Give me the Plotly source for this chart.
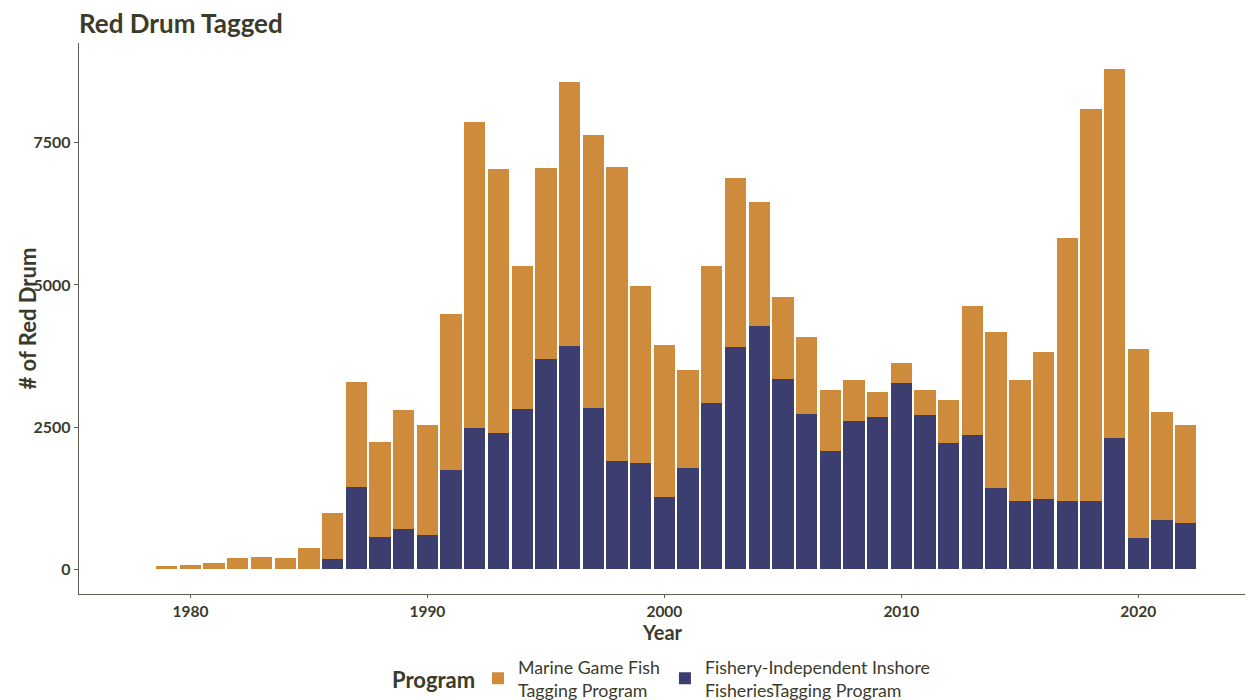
import plotly.graph_objects as go

years = list(range(1979, 2023))

# Fishery-Independent Inshore Fisheries Tagging Program (bottom segment)
fishery_independent = [
    0, 0, 0, 0, 0, 0, 0, 176, 1452, 573,
    703, 598, 1740, 2479, 2396, 2824, 3692, 3926, 2830, 1904,
    1863, 1277, 1786, 2926, 3905, 4283, 3346, 2730, 2085, 2602,
    2683, 3278, 2719, 2224, 2355, 1424, 1206, 1230, 1206, 1206,
    2314, 556, 861, 820,
]

# Total tagged (both programs)
totals = [
    58, 70, 116, 204, 216, 204, 380, 985, 3288, 2238,
    2801, 2543, 4483, 7859, 7038, 5332, 7061, 8573, 7635, 7073,
    4981, 3935, 3504, 5332, 6874, 6452, 4787, 4079, 3158, 3325,
    3112, 3632, 3155, 2968, 4622, 4172, 3328, 3815, 5830, 8098,
    8790, 3868, 2765, 2543,
]

marine_game_fish = [t - f for t, f in zip(totals, fishery_independent)]

x_ticks = [1980, 1990, 2000, 2010, 2020]
y_ticks = [0, 2500, 5000, 7500]

ORANGE = "#CE8B3B"
NAVY = "#3B3E6E"
TEXT = "#3b3b2c"
AXIS = "#5e5e50"
FONT = "Lato"

# figure is placed at (8, 8) in the page by the default body margin
W, H = 1248, 692
ML, MR, MT, MB = 71, 11, 35, 106
PW, PH = W - ML - MR, H - MT - MB


def px_x(x):
    return (x - ML) / PW


def px_y(y):
    return -(y - (H - MB)) / PH


fig = go.Figure()
fig.add_trace(go.Bar(
    x=years, y=fishery_independent,
    name="Fishery-Independent Inshore<br>FisheriesTagging Program",
    marker=dict(color=NAVY, line=dict(width=0)),
))
fig.add_trace(go.Bar(
    x=years, y=marine_game_fish,
    name="Marine Game Fish<br>Tagging Program",
    marker=dict(color=ORANGE, line=dict(width=0)),
))

fig.update_layout(
    width=W, height=H,
    barmode="stack", bargap=0.1,
    plot_bgcolor="white", paper_bgcolor="white",
    margin=dict(l=ML, r=MR, t=MT, b=MB, autoexpand=False),
    font=dict(family=FONT, color=TEXT),
    title=dict(
        text="<b>Red Drum Tagged</b>",
        x=ML / W, xanchor="left",
        y=1 - 16 / H, yanchor="middle",
        font=dict(size=26, family=FONT, color=TEXT),
    ),
    xaxis=dict(
        range=[1975.3, 2024.5],
        tickvals=x_ticks,
        ticktext=[f"<b>{v}</b>" for v in x_ticks],
        tickfont=dict(size=15.5, family=FONT, color=TEXT),
        showgrid=False, zeroline=False, automargin=False,
        showline=True, linecolor=AXIS, linewidth=1.3,
        ticks="outside", ticklen=3, tickcolor=AXIS,
    ),
    yaxis=dict(
        range=[-434, 9253],
        tickvals=y_ticks,
        ticktext=[f"<b>{v}</b>" for v in y_ticks],
        tickfont=dict(size=16, family=FONT, color=TEXT),
        showgrid=False, zeroline=False, automargin=False,
        showline=True, linecolor=AXIS, linewidth=1.3,
        ticks="outside", ticklen=4, tickcolor=AXIS,
    ),
    annotations=[
        dict(
            text="<b>Year</b>", xref="paper", yref="paper",
            x=0.5, y=px_y(624), xanchor="center", yanchor="middle",
            showarrow=False, font=dict(size=20, family=FONT, color=TEXT),
        ),
        dict(
            text="<b># of Red Drum</b>", xref="paper", yref="paper",
            x=px_x(19), y=0.5, xanchor="center", yanchor="middle",
            textangle=-90,
            showarrow=False, font=dict(size=22, family=FONT, color=TEXT),
        ),
        dict(
            text="<b>Program</b>", xref="paper", yref="paper",
            x=px_x(425), y=px_y(671), xanchor="center", yanchor="middle",
            showarrow=False, font=dict(size=22, family=FONT, color=TEXT),
        ),
    ],
    legend=dict(
        orientation="h",
        x=px_x(470), xanchor="left",
        y=px_y(670.5), yanchor="middle",
        traceorder="reversed",
        font=dict(size=17.8, family=FONT, color=TEXT),
        itemwidth=30,
    ),
)

fig.write_html("out.html")
